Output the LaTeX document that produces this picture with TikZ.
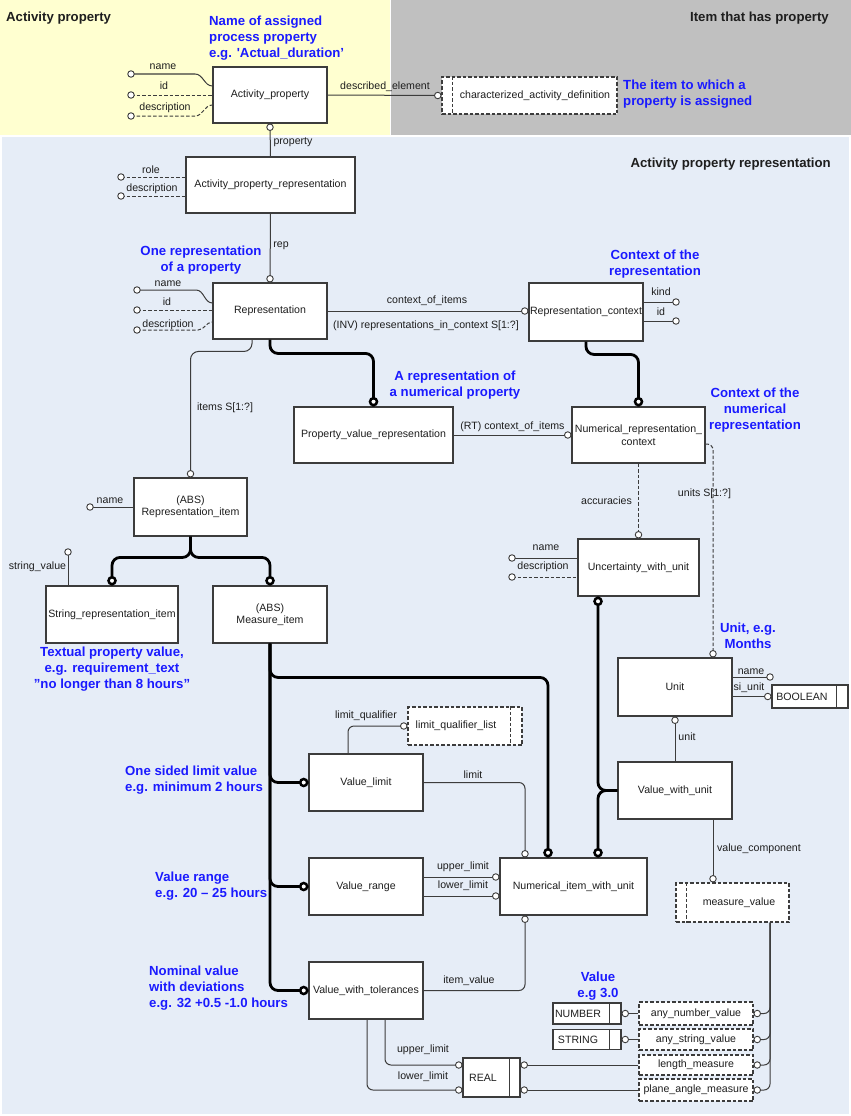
\documentclass[tikz,border=0pt]{standalone}
\usepackage{fontspec}
\setmainfont{Liberation Sans}
\usetikzlibrary{calc}
\definecolor{bgY}{RGB}{255,255,208}
\definecolor{bgG}{RGB}{192,192,192}
\definecolor{bgB}{RGB}{230,237,247}
\definecolor{txtB}{RGB}{26,26,255}
\definecolor{txtK}{RGB}{30,30,30}
\definecolor{lnC}{RGB}{60,60,60}
\definecolor{bxC}{RGB}{60,60,60}
\newcommand\lblf{\fontsize{10.6}{12.5}\selectfont}
\newcommand\ntf{\fontsize{13.2}{16}\selectfont\bfseries}
\begin{document}
\begin{tikzpicture}[x=1pt,y=-1pt,
  box/.style={draw=bxC, fill=white, line width=1.1pt, inner sep=0pt, align=center, font=\lblf, text=txtK},
  dbox/.style={box, dash pattern=on 3.5pt off 2pt},
  ln/.style={draw=lnC, line width=1pt},
  dln/.style={ln, dash pattern=on 3.5pt off 2pt},
  rln/.style={ln, rounded corners=6pt},
  thk/.style={draw=black, line width=2.8pt, rounded corners=8pt},
  oc/.style={circle, draw=bxC, fill=white, line width=0.9pt, inner sep=0pt, minimum size=6.5pt},
  tc/.style={circle, draw=black, fill=white, line width=2.5pt, inner sep=0pt, minimum size=7pt},
  lab/.style={font=\lblf, text=txtK, inner sep=0pt},
  note/.style={font=\ntf, text=txtB, align=center, inner sep=0pt},
  notel/.style={note, align=left, anchor=west},
  hdr/.style={font=\ntf, text=txtK, inner sep=0pt}]
\useasboundingbox (0,0) rectangle (851,1116);
\fill[white] (0,0) rectangle (851,1116);
\fill[bgY] (0,0) rectangle (390,135);
\fill[bgG] (391,0) rectangle (851,135);
\fill[bgB] (2,137) rectangle (849,1114);

% headers
\node[hdr, anchor=west] (h1) at (6,18) {Activity property};
\node[hdr, anchor=east] (h2) at (829,18) {Item that has property};
\node[hdr, anchor=east] (h3) at (831,164) {Activity property representation};

% boxes
\node[box, minimum width=114pt, minimum height=56pt] (ap) at (270,95) {Activity\_property};
\node[dbox, minimum width=175pt, minimum height=37pt] (cad) at (529.5,95.5) {\hspace*{11pt}characterized\_activity\_definition};
\node[box, minimum width=169pt, minimum height=56pt] (apr) at (270.5,185) {Activity\_property\_representation};
\node[box, minimum width=114pt, minimum height=56pt] (rep) at (270,311) {Representation};
\node[box, minimum width=114pt, minimum height=58pt] (rc) at (586,312) {Representation\_context};
\node[box, minimum width=159pt, minimum height=56pt] (pvr) at (373.5,435) {Property\_value\_representation};
\node[box, minimum width=133pt, minimum height=56pt] (nrc) at (638.5,435) {Numerical\_representation\_\\context};
\node[box, minimum width=113pt, minimum height=58pt] (ri) at (190.5,507) {(ABS)\\Representation\_item};
\node[box, minimum width=132pt, minimum height=57pt] (sri) at (112,614.5) {String\_representation\_item};
\node[box, minimum width=114pt, minimum height=57pt] (mi) at (270,614.5) {(ABS)\\Measure\_item};
\node[box, minimum width=121pt, minimum height=57pt] (uwu) at (638.5,567.5) {Uncertainty\_with\_unit};
\node[box, minimum width=114pt, minimum height=58pt] (unit) at (675,687) {Unit};
\node[box, minimum width=76pt, minimum height=23pt] (bool) at (810,696.5) {BOOLEAN\hspace*{16pt}};
\node[box, minimum width=114pt, minimum height=57pt] (vl) at (366,782.5) {Value\_limit};
\node[dbox, minimum width=114pt, minimum height=38pt] (lql) at (465,726) {limit\_qualifier\_list\hspace*{18pt}};
\node[box, minimum width=114pt, minimum height=57pt] (vr) at (366,886.5) {Value\_range};
\node[box, minimum width=147pt, minimum height=57pt] (niwu) at (573.5,886.5) {Numerical\_item\_with\_unit};
\node[box, minimum width=114pt, minimum height=57pt] (vwu) at (675,790.5) {Value\_with\_unit};
\node[dbox, minimum width=113pt, minimum height=39pt] (mv) at (732.5,902.5) {\hspace*{13pt}measure\_value};
\node[box, minimum width=114pt, minimum height=57pt] (vwt) at (366,990.5) {Value\_with\_tolerances};
\node[box, minimum width=57pt, minimum height=39pt] (real) at (491.5,1077.5) {REAL\hspace*{17pt}};
\node[box, minimum width=68pt, minimum height=21pt] (number) at (587,1013.5) {NUMBER\hspace*{18pt}};
\node[box, minimum width=68pt, minimum height=20pt] (string) at (587,1039.5) {STRING\hspace*{18pt}};
\node[dbox, minimum width=114pt, minimum height=23pt] (anv) at (696,1013.5) {any\_number\_value};
\node[dbox, minimum width=114pt, minimum height=21pt] (asv) at (696,1039.5) {any\_string\_value};
\node[dbox, minimum width=114pt, minimum height=20pt] (lm) at (696,1065) {length\_measure};
\node[dbox, minimum width=114pt, minimum height=22pt] (pam) at (696,1090) {plane\_angle\_measure};

% inner lines of type boxes
\draw[bxC, line width=1.1pt] ([xshift=-12pt]bool.north east) -- ([xshift=-12pt]bool.south east);
\draw[bxC, line width=1.1pt] ([xshift=-11pt]real.north east) -- ([xshift=-11pt]real.south east);
\draw[bxC, line width=1.1pt] ([xshift=-12pt]number.north east) -- ([xshift=-12pt]number.south east);
\draw[bxC, line width=1.1pt] ([xshift=-12pt]string.north east) -- ([xshift=-12pt]string.south east);
\draw[bxC, line width=1.1pt, dash pattern=on 3.5pt off 2pt] ([xshift=11pt]cad.north west) -- ([xshift=11pt]cad.south west);
\draw[bxC, line width=1.1pt, dash pattern=on 3.5pt off 2pt] ([xshift=11pt]mv.north west) -- ([xshift=11pt]mv.south west);
\draw[bxC, line width=1.1pt, dash pattern=on 3.5pt off 2pt] ([xshift=-12pt]lql.north east) -- ([xshift=-12pt]lql.south east);

% attribute end points
\coordinate (apn) at (131,74); \coordinate (api) at (131,95); \coordinate (apd) at (131,116);
\coordinate (aprr) at (121,177); \coordinate (aprd) at (121,196);
\coordinate (rpn) at (137,290); \coordinate (rpi) at (137,310); \coordinate (rpd) at (137,330);
\coordinate (rck) at (676,302); \coordinate (rci) at (676,321);
\coordinate (rin) at (90,507);
\coordinate (srsv) at (68,552);
\coordinate (uwn) at (512,558); \coordinate (uwd) at (512,577);
\coordinate (unn) at (770,677);

% Activity_property attributes
\draw[ln] (apn) -- ++(64,0) to[out=0,in=180] ([yshift=9pt]ap.west);
\draw[dln] (api) -- (ap.west |- api);
\draw[dln] (apd) -- ++(64,0) to[out=0,in=180] ([yshift=-10pt]ap.west);
\draw[ln] (ap.east) -- (cad.west);
\draw[ln] (ap.south) -- (apr.north);
% APR attributes
\draw[dln] (aprr) -- (apr.west |- aprr);
\draw[dln] (aprd) -- (apr.west |- aprd);
\draw[ln] (apr.south) -- (rep.north);
% Representation attributes
\draw[ln] (rpn) -- ++(59,0) to[out=0,in=180] ([yshift=8pt]rep.west);
\draw[dln] (rpi) -- (rep.west |- rpi);
\draw[dln] (rpd) -- ++(61,0) to[out=0,in=180] ([yshift=-11pt]rep.west);
\draw[ln] (rep.east) -- (rep.east -| rc.west);
\draw[ln] (rc.east |- rck) -- (rck);
\draw[ln] (rc.east |- rci) -- (rci);
\draw[rln, rounded corners=8pt] ([xshift=-18pt]rep.south) |- ([yshift=126pt]ri.north) -- (ri.north);
\draw[ln] (pvr.east) -- (nrc.west);
\draw[dln] (nrc.south) -- (uwu.north);
\draw[dln, rounded corners=6pt] ([yshift=-9pt]nrc.east) -| ([xshift=38pt]unit.north);
\draw[ln] (rin) -- (ri.west);
\draw[ln] (srsv) -- (srsv |- sri.north);
\draw[ln] (uwn) -- (uwu.west |- uwn);
\draw[dln] (uwd) -- (uwu.west |- uwd);
\draw[ln] (unit.east |- unn) -- (unn);
\draw[ln] (unit.east |- bool.west) -- (bool.west);
\draw[ln] (vwu.north) -- (unit.south);
\draw[ln] ([xshift=38pt]vwu.south) -- ([xshift=38pt]vwu.south |- mv.north);
\draw[rln] ([xshift=-18pt]vl.north) |- (lql.west);
\draw[rln] (vl.east) -| ([xshift=-48.5pt]niwu.north);
\draw[ln] ([yshift=9.5pt]vr.east) -- ([yshift=9.5pt]niwu.west);
\draw[ln] ([yshift=-9.5pt]vr.east) -- ([yshift=-9.5pt]niwu.west);
\draw[rln] (vwt.east) -| ([xshift=-48.5pt]niwu.south);
\draw[rln] ([xshift=19pt]vwt.south) |- ([yshift=12.5pt]real.west);
\draw[rln] ([xshift=1pt]vwt.south) |- ([yshift=-12.5pt]real.west);
\draw[ln] ([yshift=12.5pt]real.east) -- (lm.west);
\draw[ln] ([yshift=-12.5pt]real.east) -- (pam.west);
\draw[ln] (number.east) -- (anv.west);
\draw[ln] (string.east) -- (asv.west);
\draw[rln] ([xshift=37.5pt]mv.south) |- (anv.east);
\draw[rln] ([xshift=37.5pt]mv.south) |- (asv.east);
\draw[rln] ([xshift=37.5pt]mv.south) |- (lm.east);
\draw[rln] ([xshift=37.5pt]mv.south) |- (pam.east);

% thick subtype lines
\draw[thk] (rc.south) |- ([yshift=52pt]nrc.north) -- (nrc.north);
\draw[thk] (rep.south) |- ([yshift=53pt]pvr.north) -- (pvr.north);
\draw[thk] (ri.south) |- ([yshift=28pt]sri.north) -- (sri.north);
\draw[thk] (ri.south) |- ([yshift=28pt]mi.north) -- (mi.north);
\draw[thk] (mi.south) |- (vl.west);
\draw[thk] (mi.south) |- (vr.west);
\draw[thk] (mi.south) |- (vwt.west);
\draw[thk] (mi.south) |- ([xshift=-25.5pt, yshift=180pt]niwu.north) -- ([xshift=-25.5pt]niwu.north);
\draw[thk] (vwu.west) -| ([xshift=24.5pt]niwu.north);
\draw[thk] (vwu.west) -| ([xshift=-40.5pt]uwu.south);

% open circles
\foreach \c in {apn,api,apd,aprr,aprd,rpn,rpi,rpd,rck,rci,rin,srsv,uwn,uwd,unn}
  \node[oc] (c-\c) at (\c) {};
\node[oc, anchor=east] (c1) at (cad.west) {};
\node[oc, anchor=north] (c2) at (ap.south) {};
\node[oc, anchor=south] (c3) at (rep.north) {};
\node[oc, anchor=east] (c4) at (rep.east -| rc.west) {};
\node[oc, anchor=south] (c5) at (ri.north) {};
\node[oc, anchor=east] (c6) at (nrc.west) {};
\node[oc, anchor=south] (c7) at (uwu.north) {};
\node[oc, anchor=south] (c8) at ([xshift=38pt]unit.north) {};
\node[oc, anchor=east] (c9) at (bool.west) {};
\node[oc, anchor=north] (c10) at (unit.south) {};
\node[oc, anchor=south] (c11) at ([xshift=38pt]vwu.south |- mv.north) {};
\node[oc, anchor=east] (c12) at (lql.west) {};
\node[oc, anchor=south] (c13) at ([xshift=-48.5pt]niwu.north) {};
\node[oc, anchor=east] (c14) at ([yshift=9.5pt]niwu.west) {};
\node[oc, anchor=east] (c15) at ([yshift=-9.5pt]niwu.west) {};
\node[oc, anchor=north] (c16) at ([xshift=-48.5pt]niwu.south) {};
\node[oc, anchor=east] (c17) at ([yshift=12.5pt]real.west) {};
\node[oc, anchor=east] (c18) at ([yshift=-12.5pt]real.west) {};
\node[oc, anchor=west] (c19) at ([yshift=12.5pt]real.east) {};
\node[oc, anchor=west] (c20) at ([yshift=-12.5pt]real.east) {};
\node[oc, anchor=west] (c21) at (number.east) {};
\node[oc, anchor=west] (c22) at (string.east) {};
\node[oc, anchor=west] (c23) at (anv.east) {};
\node[oc, anchor=west] (c24) at (asv.east) {};
\node[oc, anchor=west] (c25) at (lm.east) {};
\node[oc, anchor=west] (c26) at (pam.east) {};

% thick circles
\node[tc, anchor=south] (t1) at (nrc.north) {};
\node[tc, anchor=south] (t2) at (pvr.north) {};
\node[tc, anchor=south] (t3) at (sri.north) {};
\node[tc, anchor=south] (t4) at (mi.north) {};
\node[tc, anchor=east] (t5) at (vl.west) {};
\node[tc, anchor=east] (t6) at (vr.west) {};
\node[tc, anchor=east] (t7) at (vwt.west) {};
\node[tc, anchor=south] (t8) at ([xshift=-25.5pt]niwu.north) {};
\node[tc, anchor=south] (t9) at ([xshift=24.5pt]niwu.north) {};
\node[tc, anchor=north] (t10) at ([xshift=-40.5pt]uwu.south) {};

% labels
\node[lab] (l1) at (163,67) {name};
\node[lab] (l2) at (164,86) {id};
\node[lab] (l3) at (165,108) {description};
\node[lab] (l4) at (385,87) {described\_element};
\node[lab] (l5) at (293,142) {property};
\node[lab] (l6) at (151,170) {role};
\node[lab] (l7) at (152,189) {description};
\node[lab] (l8) at (281,246) {rep};
\node[lab] (l9) at (168,284) {name};
\node[lab] (l10) at (167,302) {id};
\node[lab] (l11) at (168,325) {description};
\node[lab] (l12) at (427,301) {context\_of\_items};
\node[lab] (l13) at (426,326) {(INV) representations\_in\_context S[1:?]};
\node[lab] (l14) at (661,292) {kind};
\node[lab] (l15) at (661,312) {id};
\node[lab] (l16) at (225,408) {items S[1:?]};
\node[lab] (l17) at (512.5,427) {(RT) context\_of\_items};
\node[lab] (l18) at (606.5,501) {accuracies};
\node[lab] (l19) at (704.5,494) {units S[1:?]};
\node[lab] (l20) at (546,548) {name};
\node[lab] (l21) at (543,567) {description};
\node[lab] (l22) at (110,501) {name};
\node[lab] (l23) at (37.5,567) {string\_value};
\node[lab] (l24) at (751,672) {name};
\node[lab] (l25) at (749,688) {si\_unit};
\node[lab] (l26) at (687,737) {unit};
\node[lab] (l27) at (759,849) {value\_component};
\node[lab] (l28) at (366,716) {limit\_qualifier};
\node[lab] (l29) at (473,775) {limit};
\node[lab] (l30) at (463,867) {upper\_limit};
\node[lab] (l31) at (463,886) {lower\_limit};
\node[lab] (l32) at (469,981) {item\_value};
\node[lab] (l33) at (423,1050) {upper\_limit};
\node[lab] (l34) at (423,1077) {lower\_limit};

% blue notes
\node[notel] (n1) at (209,38) {Name of assigned\\process property\\e.g. {\textquotesingle}Actual\_duration'};
\node[notel] (n2) at (623,94.5) {The item to which a\\property is assigned};
\node[note] (n3) at (201,260.5) {One representation\\of a property};
\node[note] (n4) at (655,264) {Context of the\\representation};
\node[note] (n5) at (455,385) {A representation of\\a numerical property};
\node[note] (n6) at (755,410) {Context of the\\numerical\\representation};
\node[note] (n7) at (112,669) {Textual property value,\\e.g. requirement\_text\\''no longer than 8 hours''};
\node[note] (n8) at (748,636) {Unit, e.g.\\Months};
\node[notel] (n9) at (125,780.5) {One sided limit value\\e.g. minimum 2 hours};
\node[notel] (n10) at (155,886) {Value range\\e.g. 20 -- 25 hours};
\node[notel] (n11) at (149,988) {Nominal value\\with deviations\\e.g. 32 +0.5 -1.0 hours};
\node[note] (n12) at (598,986) {Value\\e.g 3.0};
\end{tikzpicture}
\end{document}
